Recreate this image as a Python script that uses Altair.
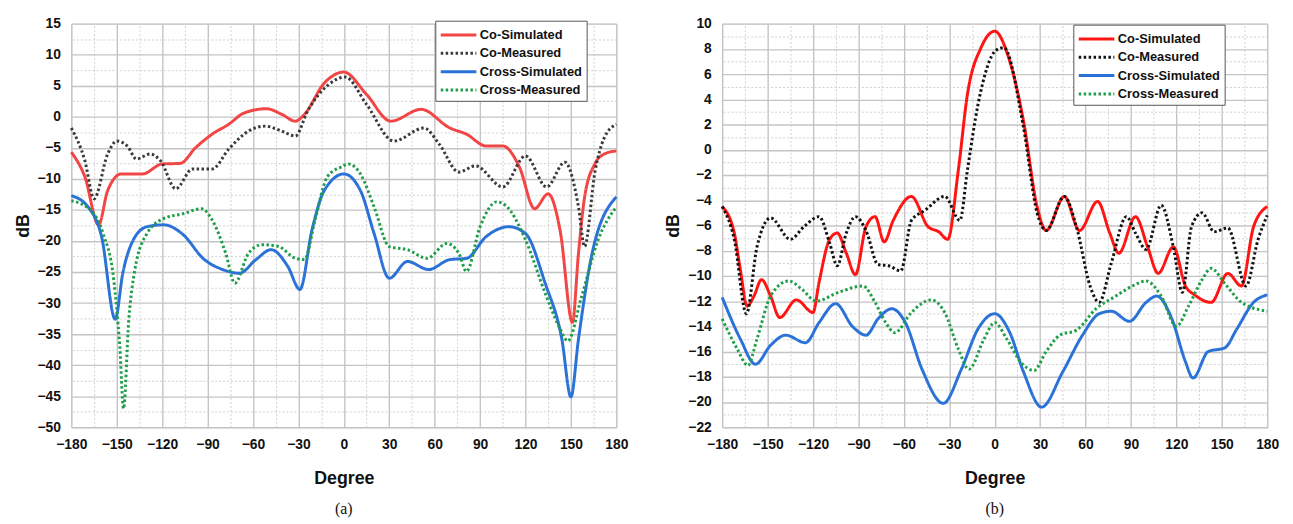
import altair as alt
import pandas as pd

SERIES = ["Co-Simulated", "Co-Measured", "Cross-Simulated", "Cross-Measured"]
DEG_TICKS = list(range(-180, 181, 30))
DEG_MINOR = list(range(-165, 180, 30))

# ---------------- panel (a) ----------------
A_CO_SIM_DEG = [-180, -171, -162, -156, -147, -133, -120, -108, -98, -87, -76, -66, -51, -41, -32, -26, -13, 0,
                15, 31, 51, 70, 81, 94, 105, 116, 126, 135, 143, 151, 155, 159, 166, 172, 180]
A_CO_SIM_DB = [-5.7, -9.7, -17.4, -11.9, -9.2, -9.2, -7.6, -7.5, -5.0, -2.8, -1.2, 0.6, 1.3, 0.4, -0.7, 0.4, 5.4, 7.2,
               3.6, -0.7, 1.2, -1.8, -2.8, -4.7, -4.7, -8.1, -14.8, -12.4, -18.5, -33.1, -22.0, -13.0, -7.5, -6.0, -5.5]

A_CO_MEAS_DEG = [-180, -171, -165, -156, -150, -143, -137, -128, -121, -111, -100, -87, -76, -63, -52, -41, -32, -24,
                 -10, 1, 15, 33, 53, 63, 76, 87, 105, 120, 134, 146, 155, 159, 166, 172, 180]
A_CO_MEAS_DB = [-1.8, -7.1, -13.2, -6.0, -3.9, -4.7, -6.8, -6.0, -7.1, -11.6, -8.4, -8.4, -5.2, -2.3, -1.5, -2.3, -3.1,
                0.9, 5.2, 6.4, 2.0, -3.9, -1.8, -4.4, -8.9, -7.9, -11.3, -6.3, -11.3, -7.3, -14.5, -20.9, -8.7, -3.4, -1.2]

A_X_SIM_DEG = [-180, -169, -160, -151, -146, -139, -130, -119, -106, -93, -80, -69, -58, -48, -37, -29, -21, -13, 0,
               11, 20, 30, 42, 56, 70, 81, 94, 109, 120, 133, 144, 150, 155, 164, 180]
A_X_SIM_DB = [-12.7, -14.5, -19.3, -32.6, -25.2, -19.8, -17.7, -17.4, -19.0, -22.8, -24.6, -25.2, -23.0, -21.4, -24.1,
              -27.8, -18.2, -11.9, -9.2, -11.9, -18.8, -26.0, -23.3, -24.6, -23.0, -22.8, -19.3, -17.7, -18.8, -26.8,
              -35.8, -45.1, -35.8, -22.0, -12.9]

A_X_MEAS_DEG = [-180, -167, -159, -152, -148, -145.5, -142, -138, -130, -119, -106, -94, -87, -78, -72, -63, -54, -43,
                -32, -26, -19, -11, -2, 3, 11, 20, 30, 42, 55, 68, 76, 81, 90, 101, 107, 120, 133, 142, 148, 157, 168, 180]
A_X_MEAS_DB = [-13.5, -15.1, -18.8, -26.2, -36.9, -47.0, -32.6, -24.6, -18.8, -16.4, -15.6, -14.8, -16.6, -22.0, -26.8,
               -22.0, -20.6, -20.9, -22.8, -23.0, -16.6, -9.7, -8.1, -7.6, -9.2, -14.5, -20.9, -21.4, -22.8, -20.4,
               -22.0, -24.9, -17.7, -13.7, -14.3, -19.8, -28.4, -33.7, -36.1, -29.0, -19.8, -14.5]

# ---------------- panel (b) ----------------
B_CO_SIM_DEG = [-180, -172, -168, -163.5, -159, -154, -148, -142, -131, -120, -116, -109, -104, -98, -92, -85, -79, -73,
                -67, -55, -44, -37, -31, -24, -18, -9, 0, 10, 19, 28, 34, 46, 56, 68, 76, 82, 93, 101, 108, 118, 126,
                132, 143, 154, 163, 171, 180]
B_CO_SIM_DB = [-4.5, -6.6, -9.5, -12.4, -11.6, -10.3, -11.6, -13.3, -11.9, -12.9, -10.5, -7.1, -6.6, -8.2, -9.9, -6.1,
               -5.3, -7.3, -5.6, -3.7, -6.1, -6.5, -7.1, -1.6, 4.4, 8.1, 9.4, 7.0, 2.3, -4.5, -6.4, -3.7, -6.4, -4.1,
               -6.6, -8.2, -5.3, -7.7, -9.8, -7.7, -10.8, -11.5, -12.1, -9.8, -10.8, -6.1, -4.5]

B_CO_MEAS_DEG = [-180, -172, -164, -157, -148, -135, -126, -116, -109, -104, -98, -92, -85, -77, -70, -62, -55, -46,
                 -33, -23, -18, -11, 1, 6, 19, 28, 34, 46, 54, 63, 69, 77, 87, 93, 100, 110, 118, 124, 130, 137, 145,
                 154, 166, 174, 180]
B_CO_MEAS_DB = [-4.5, -7.1, -13.0, -7.7, -5.4, -7.1, -6.1, -5.3, -7.4, -9.2, -6.6, -5.3, -6.4, -9.1, -9.2, -9.6, -5.6,
                -4.8, -3.7, -5.6, -1.6, 3.6, 7.9, 8.1, 1.8, -5.0, -6.4, -3.7, -6.1, -10.8, -12.1, -9.0, -5.3, -6.6,
                -7.9, -4.4, -7.7, -11.3, -6.1, -5.0, -6.5, -6.2, -10.8, -7.1, -5.2]

B_X_SIM_DEG = [-180, -168, -158, -148, -138, -125, -116, -105, -94, -85, -77, -68, -59, -48, -34, -22, -11, 0, 10, 19,
               31, 45, 58, 69, 77, 89, 100, 107, 117, 126, 131, 141, 152, 160, 171, 180]
B_X_SIM_DB = [-11.7, -15.0, -17.0, -15.5, -14.7, -15.3, -13.7, -12.2, -14.0, -14.7, -13.4, -12.6, -13.7, -17.4, -20.1,
              -17.4, -14.2, -13.0, -14.5, -17.6, -20.4, -17.6, -14.7, -13.0, -12.8, -13.6, -12.1, -11.6, -13.4, -16.8,
              -18.1, -16.0, -15.7, -14.2, -12.1, -11.5]

B_X_MEAS_DEG = [-180, -170, -163, -157, -148, -136, -127, -118, -103, -87, -79, -72, -66, -55, -42, -33, -24, -17, -7,
                0, 8, 17, 26, 34, 43, 54, 67, 80, 91, 100, 110, 120, 128, 137, 143, 152, 163, 180]
B_X_MEAS_DB = [-13.4, -15.8, -17.1, -15.0, -11.6, -10.4, -11.1, -12.0, -11.3, -10.8, -12.1, -13.7, -14.5, -12.9, -11.9,
               -12.9, -15.8, -17.4, -15.0, -13.7, -15.0, -16.8, -17.5, -16.0, -14.7, -14.3, -12.6, -11.6, -10.8,
               -10.4, -11.6, -14.0, -12.4, -10.3, -9.4, -10.6, -12.1, -12.8]

COLORS_A = ["#f24545", "#3a3a3a", "#2a72d8", "#1f9e4a"]
COLORS_B = ["#ff1414", "#111111", "#2a72d8", "#1f9e4a"]
DASHES = [[1, 0], [2.5, 2.5], [1, 0], [2.5, 2.5]]

FONT = "Liberation Sans"


def make_df(pairs):
    frames = []
    for name, (d, v) in zip(SERIES, pairs):
        frames.append(pd.DataFrame({"deg": d, "db": v, "series": name}))
    return pd.concat(frames, ignore_index=True)


def panel(df, ydom, ymajor, yminor, colors, leg_x, leg_y, caption):
    base = alt.Chart(df)
    xs = alt.Scale(domain=[-180, 180], nice=False, zero=False)
    ys = alt.Scale(domain=ydom, nice=False, zero=False)
    minor = base.mark_line(opacity=0).encode(
        x=alt.X("deg:Q", scale=xs, axis=alt.Axis(values=DEG_MINOR, grid=True, gridDash=[2, 2], gridColor="#d0d0d0",
                                                 gridWidth=1, labels=False, ticks=False, domain=False, title=None,
                                                 orient="top")),
        y=alt.Y("db:Q", scale=ys, axis=alt.Axis(values=yminor, grid=True, gridDash=[2, 2], gridColor="#d0d0d0",
                                                gridWidth=1, labels=False, ticks=False, domain=False, title=None,
                                                orient="right")),
    )
    leg = alt.Legend(orient="none", legendX=leg_x, legendY=leg_y, symbolType="M-1,0H3", symbolSize=324,
                     symbolStrokeWidth=3, labelFont=FONT, labelFontWeight="bold", labelFontSize=13,
                     labelColor="#111", labelOffset=20, padding=4, rowPadding=0.5, strokeColor="#555",
                     fillColor="white", cornerRadius=0)
    lines = base.mark_line(interpolate="monotone", strokeWidth=3).encode(
        x=alt.X("deg:Q", scale=xs, axis=alt.Axis(values=DEG_TICKS, grid=True, gridColor="#c4c4c4", gridWidth=1.4,
                                                 ticks=False, domain=False, title="Degree", orient="bottom",
                                                 labelFont=FONT, labelFontWeight="bold", labelFontSize=14,
                                                 labelColor="#111", labelPadding=11, titleFont=FONT,
                                                 titleFontWeight="bold", titleFontSize=18, titleColor="#111",
                                                 titlePadding=18, labelFlush=False)),
        y=alt.Y("db:Q", scale=ys, axis=alt.Axis(values=ymajor, grid=True, gridColor="#c4c4c4", gridWidth=1.4,
                                                ticks=False, domain=False, title="dB", orient="left",
                                                labelFont=FONT, labelFontWeight="bold", labelFontSize=14,
                                                labelColor="#111", labelPadding=11, titleFont=FONT,
                                                titleFontWeight="bold", titleFontSize=18, titleColor="#111",
                                                titlePadding=5, labelFlush=False)),
        color=alt.Color("series:N", title=None, scale=alt.Scale(domain=SERIES, range=colors), legend=leg),
        strokeDash=alt.StrokeDash("series:N", title=None, scale=alt.Scale(domain=SERIES, range=DASHES), legend=leg),
    )
    return alt.layer(minor, lines).resolve_axis(x="independent", y="independent").properties(
        width=551, height=408,
        title=alt.TitleParams(caption, orient="bottom", font="Liberation Serif", fontSize=16, fontWeight="normal",
                              color="#111", offset=14),
    )


df_a = make_df([(A_CO_SIM_DEG, A_CO_SIM_DB), (A_CO_MEAS_DEG, A_CO_MEAS_DB),
                (A_X_SIM_DEG, A_X_SIM_DB), (A_X_MEAS_DEG, A_X_MEAS_DB)])
df_b = make_df([(B_CO_SIM_DEG, B_CO_SIM_DB), (B_CO_MEAS_DEG, B_CO_MEAS_DB),
                (B_X_SIM_DEG, B_X_SIM_DB), (B_X_MEAS_DEG, B_X_MEAS_DB)])

left = panel(df_a, [-50, 15], list(range(-50, 16, 5)), [v + 2.5 for v in range(-50, 15, 5)], COLORS_A, 368, -3, "(a)")
right = panel(df_b, [-22, 10], list(range(-22, 11, 2)), list(range(-21, 10, 2)), COLORS_B, 355, 1, "(b)")

chart = alt.hconcat(left, right, spacing=35).resolve_scale(color="independent", strokeDash="independent").properties(
    padding={"left": 5, "top": 5, "right": 5, "bottom": 5}
).configure_view(stroke="#333", strokeWidth=2).configure(background="white")

chart.save("out.html", embed_options={"renderer": "svg", "actions": False})
